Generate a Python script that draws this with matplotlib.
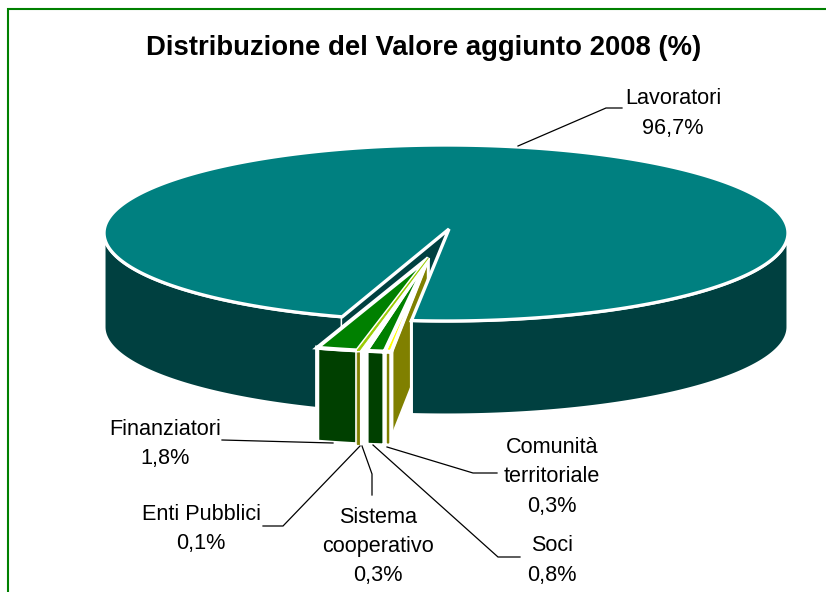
import numpy as np
import matplotlib
matplotlib.use("Agg")
import matplotlib.pyplot as plt
from matplotlib.patches import Polygon

plt.rcParams['font.family'] = ['Liberation Sans', 'DejaVu Sans']

labels = ["Lavoratori", "Finanziatori", "Enti Pubblici", "Sistema\ncooperativo", "Soci", "Comunità\nterritoriale"]
values = [96.7, 1.8, 0.1, 0.3, 0.8, 0.3]
value_text = ["96,7%", "1,8%", "0,1%", "0,3%", "0,8%", "0,3%"]
top_colors = ["#008080", "#008000", "#99CC00", "#FFFFFF", "#008000", "#FFFF00"]
side_colors = ["#004040", "#004000", "#808000", "#FFFFFF", "#004000", "#808000"]

W, H = 826, 592
fig = plt.figure(figsize=(W / 100, H / 100), dpi=100)
ax = fig.add_axes([0, 0, 1, 1])
ax.set_xlim(0, W)
ax.set_ylim(H, 0)
ax.axis("off")

CX, CY, RX, RY, DEPTH = 446, 233, 342, 88, 94
SMALL_R = 1.07
EXPLODE = 0.29
SHIFT_X = 2.5
GAP_START = np.radians(5.8)   # measured clockwise from straight down

fracs = np.array(values) / sum(values) * 2 * np.pi


def pt(theta, r=1.0, c=(CX, CY)):
    # theta measured clockwise on screen from straight down
    return np.column_stack([c[0] - RX * r * np.sin(theta), c[1] + RY * r * np.cos(theta)])


def poly(xy, fc, lw=2.2, z=1, ec="white"):
    ax.add_patch(Polygon(xy, closed=True, fc=fc, ec=ec, lw=lw, joinstyle="miter", zorder=z))


start_small = GAP_START
end_small = GAP_START + fracs[1:].sum()
main_th = np.linspace(end_small, 2 * np.pi + GAP_START, 500)

# main slice, outer wall: left part behind the exploded slices, right part in front
left = np.linspace(end_small, np.pi / 2, 120)
right = np.linspace(3 * np.pi / 2, 2 * np.pi + GAP_START, 120)
for part, z in ((left, 1), (right, 5.5)):
    e = pt(part)
    poly(np.vstack([e, (e + [0, DEPTH])[::-1]]), side_colors[0], z=z)

# main slice, radial wall on the far side of the gap
apex = np.array([[CX + 3, CY - 4]])
edge = pt(np.array([end_small]))
poly(np.vstack([apex, edge, edge + [0, DEPTH], apex + [0, DEPTH]]), side_colors[0], lw=0, z=2)

# exploded small slices
mid = (start_small + end_small) / 2
c2 = (CX + SHIFT_X - RX * EXPLODE * np.sin(mid), CY + RY * EXPLODE * np.cos(mid))
angles = GAP_START + np.concatenate([[0], np.cumsum(fracs[:0:-1])])
# order on screen from right to left: Comunità, Soci, Sistema, Enti, Finanziatori
right_edge = pt(np.array([start_small]), SMALL_R, c2)
c2a = np.array([c2])
poly(np.vstack([c2a, right_edge, right_edge + [0, DEPTH - 7], c2a + [0, DEPTH - 7]]), side_colors[5], z=3)
for i, k in enumerate(range(5, 0, -1)):
    th = np.linspace(angles[i], angles[i + 1], 12)
    e = pt(th, SMALL_R, c2)
    face = np.vstack([e, (e + [0, DEPTH])[::-1]])
    tip = np.vstack([c2a, pt(th, SMALL_R, c2)])
    if labels[k].startswith("Enti"):
        # the thinnest slice keeps its colour, on top of its neighbours' white edges
        poly(face, side_colors[k], lw=0.6, z=4.5, ec=side_colors[k])
        poly(tip, top_colors[k], lw=0.6, z=5.2, ec=top_colors[k])
    else:
        poly(face, side_colors[k], lw=3.0, z=4)
        poly(tip, top_colors[k], lw=2.8, z=5)

# main slice top
poly(np.vstack([apex, pt(main_th)]), top_colors[0], lw=2.4, z=6)

# leader lines
leaders = [
    [(518, 146), (606, 108), (622, 108)],
    [(222, 440), (333, 443)],
    [(263, 526), (283, 526), (360, 446)],
    [(362, 446), (372, 474), (372, 495)],
    [(373, 445), (498, 557), (520, 557)],
    [(387, 447), (473, 473), (497, 473)],
]
for line in leaders:
    xs, ys = zip(*line)
    ax.plot(xs, ys, color="black", lw=0.9, zorder=7, solid_joinstyle="miter")

# labels
positions = [(673, 113.5), (165, 444), (201, 529), (378, 546.5), (552, 560.5), (552, 477)]
for lab, val, (x, y) in zip(labels, value_text, positions):
    ax.text(x, y, lab + "\n" + val, ha="center", va="center", fontsize=15.6,
            linespacing=1.52, color="black", zorder=8)

ax.text(423.5, 48, "Distribuzione del Valore aggiunto 2008 (%)", ha="center", va="center",
        fontsize=19.8, fontweight="bold", color="black")

# chart frame
ax.plot([8, 8, W], [H, 8.5, 8.5], color="#008000", lw=1.5, zorder=9, solid_joinstyle="miter")

fig.savefig("out.png", dpi=100)
